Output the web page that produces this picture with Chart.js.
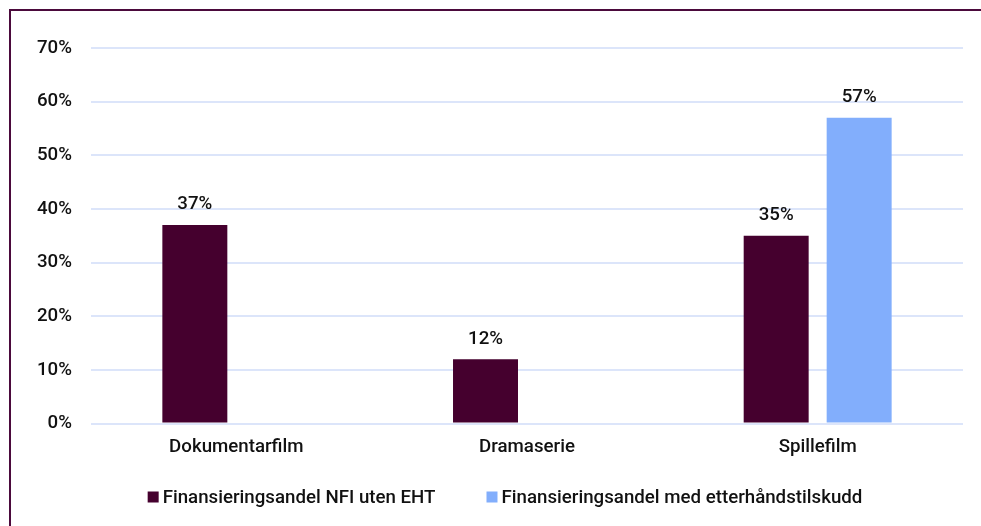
<!DOCTYPE html>
<html lang="no">
<head>
    <meta charset="UTF-8">
    <title>Finansieringsandel</title>
    <style>
        html, body { margin: 0; padding: 0; background: #fff; }
        .frame {
            position: absolute; left: 9px; top: 9px;
            width: 972px; height: 517px;
            border-left: 2px solid #4b0a3c; border-top: 2px solid #4b0a3c;
        }
        .frame canvas { display: block; }
    </style>
</head>
<body>
    <div class="frame">
        <canvas id="bar-chart" width="970" height="515"></canvas>
    </div>

    <script src="https://cdn.jsdelivr.net/npm/chart.js"></script>
    <script>
        // data
        var kategorier = ["Dokumentarfilm", "Dramaserie", "Spillefilm"];
        var utenEHT = [37, 12, 35];
        var medEtterhand = [null, null, 57];
        var serieNavn = ["Finansieringsandel NFI uten EHT", "Finansieringsandel med etterhåndstilskudd"];
        var farger = ['#45002e', '#82aefc'];
        var yMax = 70;
        var yStep = 10;

        var font = { family: "Roboto", size: 18.7, weight: 500 };
        var fontCss = "500 18.7px Roboto";

        // labels above the bars
        const verdiEtiketter = {
            id: 'verdiEtiketter',
            afterDatasetsDraw(chart) {
                const ctx = chart.ctx;
                ctx.save();
                ctx.font = fontCss;
                ctx.fillStyle = "#111";
                ctx.textAlign = "center";
                ctx.textBaseline = "bottom";
                chart.data.datasets.forEach((ds, i) => {
                    chart.getDatasetMeta(i).data.forEach((bar, j) => {
                        if (ds.data[j] == null) return;
                        ctx.fillText(ds.data[j] + "%", bar.x, bar.y - 11);
                    });
                });
                ctx.restore();
            }
        };

        // legend drawn by hand so the spacing matches the original
        const egenLegende = {
            id: 'egenLegende',
            afterDraw(chart) {
                const ctx = chart.ctx;
                ctx.save();
                ctx.font = fontCss;
                ctx.textBaseline = "middle";
                const boks = 11, luft = 4, mellom = 51;
                const bredder = chart.data.datasets.map(ds => boks + luft + ctx.measureText(ds.label).width);
                const total = bredder.reduce((a, b) => a + b, 0) + mellom * (bredder.length - 1);
                let x = 494 - total / 2;
                const y = 486;
                chart.data.datasets.forEach((ds, i) => {
                    ctx.fillStyle = ds.backgroundColor;
                    ctx.fillRect(x, y - boks / 2, boks, boks);
                    ctx.fillStyle = "#111";
                    ctx.fillText(ds.label, x + boks + luft, y + 1);
                    x += bredder[i] + mellom;
                });
                ctx.restore();
            }
        };

        const barChart = new Chart(document.getElementById("bar-chart"), {
            type: 'bar',
            data: {
                labels: kategorier,
                datasets: [{
                    label: serieNavn[0],
                    data: utenEHT,
                    backgroundColor: farger[0]
                }, {
                    label: serieNavn[1],
                    data: medEtterhand,
                    backgroundColor: farger[1]
                }]
            },
            plugins: [verdiEtiketter, egenLegende],
            options: {
                responsive: false,
                animation: false,
                categoryPercentage: 0.571,
                barPercentage: 0.783,
                layout: { padding: { top: 37, right: 18, bottom: 62, left: 0 } },
                plugins: {
                    tooltip: { enabled: false },
                    legend: { display: false }
                },
                scales: {
                    x: {
                        grid: { display: false },
                        border: { display: false },
                        ticks: { color: '#111', padding: 5, font: font }
                    },
                    y: {
                        min: 0,
                        max: yMax,
                        afterFit: s => { s.width = 80; },
                        grid: { color: '#dce5fa', lineWidth: 2, drawTicks: false },
                        border: { display: false },
                        ticks: {
                            stepSize: yStep,
                            padding: 19,
                            color: '#111',
                            font: font,
                            callback: v => v + '%'
                        }
                    }
                }
            }
        });
    </script>
</body>
</html>
